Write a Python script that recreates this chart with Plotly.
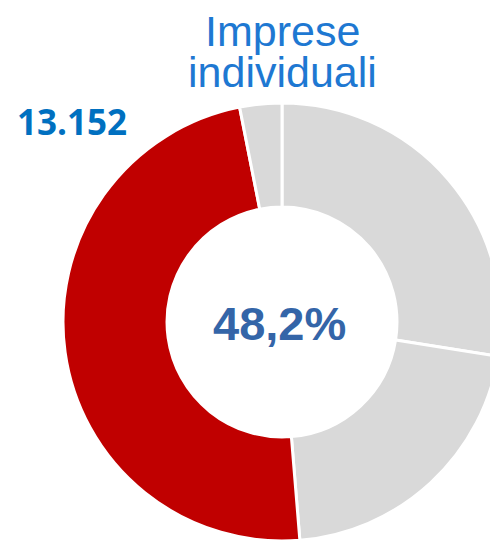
import plotly.graph_objects as go

# Data
labels = ["Altro A", "Altro B", "Imprese individuali", "Altro C"]
values = [27.5, 21.2, 48.2, 3.1]
colors = ["#D9D9D9", "#D9D9D9", "#C00000", "#D9D9D9"]
title_lines = ["Imprese", "individuali"]
count_label = "13.152"
center_label = "48,2%"

W, H = 502, 544
cx, cy, r = 282, 322, 219

fig = go.Figure(go.Pie(
    labels=labels, values=values, sort=False, direction="clockwise", rotation=0,
    hole=0.525, marker=dict(colors=colors, line=dict(color="white", width=3)),
    textinfo="none", hoverinfo="label+percent", showlegend=False,
    domain=dict(x=[(cx - r) / W, min(1, (cx + r) / W)], y=[(H - cy - r) / H, (H - cy + r) / H]),
))

def px(x):
    return x / W

def py(y):
    return 1 - y / H

ann = [
    dict(text=title_lines[0], x=px(282), y=py(31), font=dict(family="Liberation Sans, Arial", size=43, color="#1E78D2")),
    dict(text=title_lines[1], x=px(282), y=py(72), font=dict(family="Liberation Sans, Arial", size=43, color="#1E78D2")),
    dict(text="<b>" + count_label + "</b>", x=px(72), y=py(122), font=dict(family="Open Sans", size=35, color="#0070C0")),
    dict(text="<b>" + center_label + "</b>", x=px(279), y=py(323), font=dict(family="Liberation Sans, Arial", size=47, color="#3465A8")),
]
for a in ann:
    a.update(xref="paper", yref="paper", xanchor="center", yanchor="middle", showarrow=False)

fig.update_layout(width=W, height=H, margin=dict(l=0, r=0, t=0, b=0),
                  paper_bgcolor="white", plot_bgcolor="white", annotations=ann)
fig.write_html(
    "out.html",
    config={"displayModeBar": False},
    post_script="document.body.style.margin='0';document.body.style.overflow='hidden';",
)
